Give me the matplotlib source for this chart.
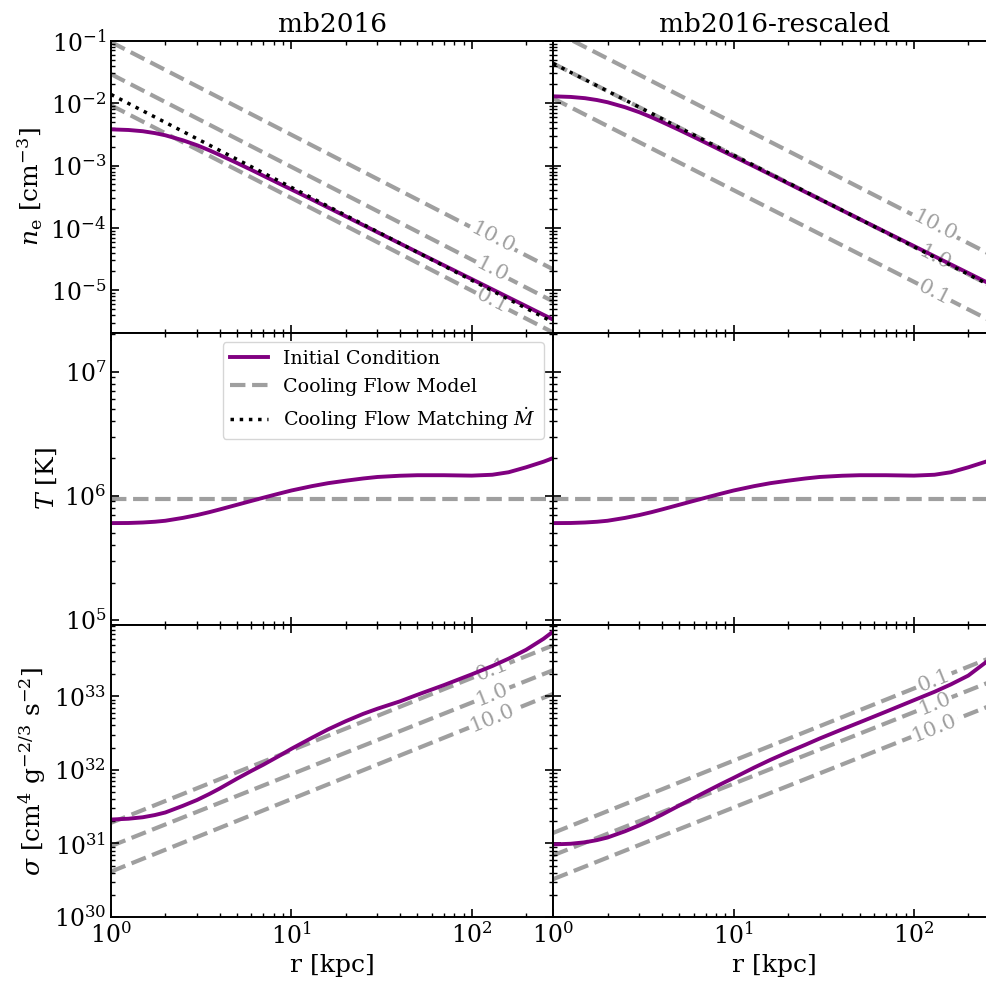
import numpy as np
import matplotlib.pyplot as plt
from matplotlib.lines import Line2D

plt.rcParams['font.family'] = 'DejaVu Serif'
plt.rcParams['mathtext.fontset'] = 'dejavuserif'
plt.rcParams['axes.linewidth'] = 1.4

# initial condition profiles (r in kpc)
r_ic = [1, 1.25, 1.5, 1.75, 2, 2.5, 3, 3.5, 4, 5, 6, 7, 8.5, 10, 13, 16, 20, 25,
        30, 40, 50, 70, 100, 130, 160, 200, 250, 283]
ne_ic = [3.802e-3, 3.715e-3, 3.548e-3, 3.311e-3, 3.055e-3, 2.541e-3, 2.113e-3,
         1.758e-3, 1.479e-3, 1.096e-3, 8.511e-4, 6.839e-4, 5.188e-4, 4.130e-4,
         2.851e-4, 2.113e-4, 1.531e-4, 1.109e-4, 8.511e-5, 5.623e-5, 4.074e-5,
         2.512e-5, 1.507e-5, 1.033e-5, 7.656e-6, 5.559e-6, 4.027e-6, 3.373e-6]
ne_ic_rescaled = [1.288e-2, 1.259e-2, 1.202e-2, 1.122e-2, 1.035e-2, 8.610e-3,
                  7.161e-3, 5.957e-3, 5.012e-3, 3.715e-3, 2.884e-3, 2.317e-3,
                  1.758e-3, 1.400e-3, 9.661e-4, 7.161e-4, 5.188e-4, 3.758e-4,
                  2.884e-4, 1.905e-4, 1.380e-4, 8.511e-5, 5.105e-5, 3.499e-5,
                  2.594e-5, 1.884e-5, 1.365e-5, 1.143e-5]
T_ic = [6.026e5, 6.039e5, 6.095e5, 6.180e5, 6.295e5, 6.637e5, 6.998e5, 7.379e5,
        7.762e5, 8.472e5, 9.099e5, 9.661e5, 1.040e6, 1.104e6, 1.197e6, 1.265e6,
        1.324e6, 1.380e6, 1.419e6, 1.452e6, 1.466e6, 1.466e6, 1.455e6, 1.479e6,
        1.549e6, 1.698e6, 1.884e6, 2.018e6]
sigma_ic = [2.109e31, 2.163e31, 2.265e31, 2.427e31, 2.630e31, 3.236e31, 3.890e31,
            4.677e31, 5.559e31, 7.586e31, 9.661e31, 1.175e32, 1.531e32, 1.928e32,
            2.723e32, 3.548e32, 4.571e32, 5.754e32, 6.761e32, 8.511e32, 1.047e33,
            1.413e33, 1.982e33, 2.570e33, 3.236e33, 4.266e33, 6.026e33, 7.586e33]
sigma_ic_rescaled = [9.683e30, 9.886e30, 1.035e31, 1.109e31, 1.202e31, 1.462e31,
                     1.758e31, 2.089e31, 2.455e31, 3.273e31, 4.121e31, 5.012e31,
                     6.383e31, 7.762e31, 1.072e32, 1.365e32, 1.738e32, 2.188e32,
                     2.661e32, 3.548e32, 4.416e32, 6.166e32, 8.831e32, 1.148e33,
                     1.445e33, 1.905e33, 2.884e33, 3.631e33]

# cooling flow power laws, one per Mdot
r_cf = [1, 300]
mdot_labels = ['10.0', '1.0', '0.1']
ne_cf = [[9.55e-2, 1.98e-5], [2.92e-2, 6.05e-6], [9.25e-3, 1.92e-6]]
ne_cf_rescaled = [[1.45e-1, 3.12e-5], [4.33e-2, 9.9e-6], [1.19e-2, 2.71e-6]]
ne_match = [1.38e-2, 2.81e-6]
ne_match_rescaled = [4.33e-2, 9.9e-6]
T_cf = [9.5e5, 9.5e5]
sigma_cf = [[4.14e30, 1.14e33], [9.2e30, 2.39e33], [1.905e31, 5.21e33]]
sigma_cf_rescaled = [[3.27e30, 8.39e32], [6.89e30, 1.77e33], [1.39e31, 3.75e33]]

titles = ['mb2016', 'mb2016-rescaled']
r_label = 130

ic_color = 'purple'
cf_color = '#9f9f9f'

fig = plt.figure(figsize=(9.86, 9.86), dpi=100)
x0s = [0.1126, 0.5611]
w = 0.4485
h = 0.2962
y0s = [0.070 + 2 * h, 0.070 + h, 0.070]

ylims = [(2.07e-6, 1e-1), (9.1e4, 2.06e7), (1e30, 9.3e33)]
ylabels = [r'$n_{\rm e}$ [cm$^{-3}$]', r'$T$ [K]',
           r'$\sigma$ [cm$^4$ g$^{-2/3}$ s$^{-2}$]']


def label_line(ax, x, y, text):
    # inline label sitting on a straight log-log line
    ylab = 10 ** np.interp(np.log10(r_label), np.log10(x), np.log10(y))
    p0 = ax.transData.transform((x[0], y[0]))
    p1 = ax.transData.transform((x[-1], y[-1]))
    ang = np.degrees(np.arctan2(p1[1] - p0[1], p1[0] - p0[0]))
    ax.text(r_label, ylab, text, rotation=ang, rotation_mode='anchor',
            ha='center', va='center', color=cf_color, fontsize=15, zorder=1.5,
            bbox=dict(boxstyle='square,pad=0.08', fc='white', ec='none'))


cols = [
    (ne_ic, ne_cf, ne_match, sigma_ic, sigma_cf),
    (ne_ic_rescaled, ne_cf_rescaled, ne_match_rescaled, sigma_ic_rescaled, sigma_cf_rescaled),
]

axes = [[None, None] for _ in range(3)]
for j, (ne, ne_lines, ne_m, sig, sig_lines) in enumerate(cols):
    for i in range(3):
        ax = fig.add_axes([x0s[j], y0s[i], w, h])
        axes[i][j] = ax
        ax.set_xscale('log')
        ax.set_yscale('log')
        ax.set_xlim(1, 283)
        ax.set_ylim(*ylims[i])
        ax.tick_params(which='both', direction='in', top=True, right=True,
                       labelsize=17)
        ax.tick_params(which='major', length=5.5, width=1.2)
        ax.tick_params(which='minor', length=3, width=1.0)
        if j == 0:
            ax.set_ylabel(ylabels[i], fontsize=18)
        else:
            ax.tick_params(labelleft=False)
        if i < 2:
            ax.tick_params(labelbottom=False)
        else:
            ax.set_xlabel('r [kpc]', fontsize=18)

    ax_n, ax_T, ax_s = axes[0][j], axes[1][j], axes[2][j]
    ax_n.set_title(titles[j], fontsize=19)

    # density
    ax_n.plot(r_ic, ne, color=ic_color, lw=2.8, zorder=2)
    for lab, vals in zip(mdot_labels, ne_lines):
        ax_n.plot(r_cf, vals, color=cf_color, lw=3, ls='--', zorder=1)
        label_line(ax_n, r_cf, vals, lab)
    ax_n.plot(r_cf, ne_m, color='k', lw=2.5, ls=':', zorder=2.5)

    # temperature
    ax_T.plot(r_ic, T_ic, color=ic_color, lw=2.8, zorder=2)
    ax_T.plot(r_cf, T_cf, color=cf_color, lw=3, ls='--', zorder=1)

    # entropy
    ax_s.plot(r_ic, sig, color=ic_color, lw=2.8, zorder=2)
    for lab, vals in zip(mdot_labels, sig_lines):
        ax_s.plot(r_cf, vals, color=cf_color, lw=3, ls='--', zorder=1)
        label_line(ax_s, r_cf, vals, lab)

handles = [
    Line2D([], [], color=ic_color, lw=2.8),
    Line2D([], [], color=cf_color, lw=3, ls='--'),
    Line2D([], [], color='k', lw=2.5, ls=':'),
]
axes[1][0].legend(handles, ['Initial Condition', 'Cooling Flow Model',
                            r'Cooling Flow Matching $\dot{M}$'],
                  loc='upper right', fontsize=13.7)

fig.savefig('out.png', dpi=100)
